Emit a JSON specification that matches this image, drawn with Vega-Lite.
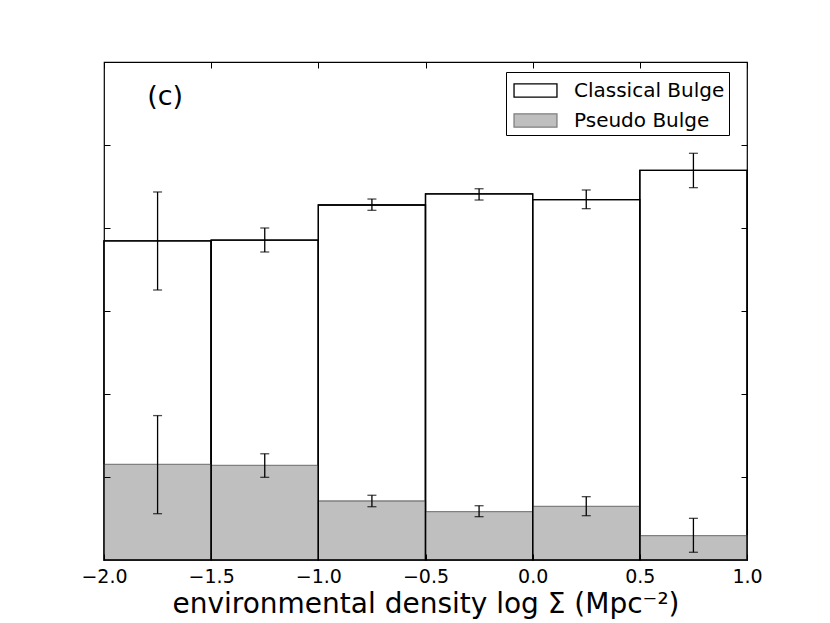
{
  "$schema": "https://vega.github.io/schema/vega-lite/v6.json",
  "width": 643,
  "height": 498,
  "autosize": "none",
  "padding": {"left": 104, "top": 62, "right": 83, "bottom": 63},
  "background": "white",
  "datasets": {
    "bins": [
      {"lo": -2.0, "hi": -1.5, "mid": -1.75, "classical": 0.3845, "pseudo": 0.1152, "c_lo": 0.3253, "c_hi": 0.4434, "p_lo": 0.0558, "p_hi": 0.1740},
      {"lo": -1.5, "hi": -1.0, "mid": -1.25, "classical": 0.3855, "pseudo": 0.1140, "c_lo": 0.3711, "c_hi": 0.4000, "p_lo": 0.0996, "p_hi": 0.1280},
      {"lo": -1.0, "hi": -0.5, "mid": -0.75, "classical": 0.4277, "pseudo": 0.0711, "c_lo": 0.4213, "c_hi": 0.4349, "p_lo": 0.0642, "p_hi": 0.0780},
      {"lo": -0.5, "hi": 0.0, "mid": -0.25, "classical": 0.4410, "pseudo": 0.0582, "c_lo": 0.4337, "c_hi": 0.4473, "p_lo": 0.0522, "p_hi": 0.0654},
      {"lo": 0.0, "hi": 0.5, "mid": 0.25, "classical": 0.4341, "pseudo": 0.0647, "c_lo": 0.4233, "c_hi": 0.4458, "p_lo": 0.0534, "p_hi": 0.0763},
      {"lo": 0.5, "hi": 1.0, "mid": 0.75, "classical": 0.4695, "pseudo": 0.0293, "c_lo": 0.4486, "c_hi": 0.4900, "p_lo": 0.0093, "p_hi": 0.0502}
    ],
    "note": [{"x": -1.715, "y": 0.558, "label": "(c)"}]
  },
  "data": {"name": "bins"},
  "config": {
    "font": "DejaVu Sans",
    "view": {"stroke": "black", "strokeWidth": 1.2},
    "axis": {
      "domain": false,
      "grid": false,
      "tickColor": "black",
      "tickSize": -6,
      "tickWidth": 1,
      "labelColor": "black",
      "labelFont": "DejaVu Sans",
      "labelFontSize": 19,
      "titleColor": "black",
      "titleFont": "DejaVu Sans",
      "titleFontWeight": "normal"
    }
  },
  "layer": [
    {
      "mark": {"type": "rect", "strokeWidth": 1.3},
      "encoding": {
        "x": {
          "field": "lo", "type": "quantitative",
          "scale": {"domain": [-2, 1], "nice": false, "zero": false, "padding": 0},
          "axis": {
            "orient": "bottom",
            "zindex": 2,
            "values": [-2, -1.5, -1, -0.5, 0, 0.5, 1],
            "format": ".1f",
            "labelPadding": 13,
            "labelFlush": false,
            "title": "environmental density log Σ (Mpc⁻²)",
            "titleFontSize": 28,
            "titlePadding": 4
          }
        },
        "x2": {"field": "hi"},
        "y": {
          "field": "classical", "type": "quantitative",
          "scale": {"domain": [0, 0.6], "nice": false, "padding": 0},
          "axis": {"orient": "left", "zindex": 2, "values": [0.1, 0.2, 0.3, 0.4, 0.5], "labels": false, "title": null}
        },
        "y2": {"datum": 0},
        "fill": {
          "datum": "Classical Bulge",
          "scale": {"domain": ["Classical Bulge", "Pseudo Bulge"], "range": ["white", "#bfbfbf"]},
          "legend": {
            "orient": "none",
            "legendX": 402,
            "legendY": 10,
            "title": null,
            "strokeColor": "black",
            "fillColor": "white",
            "padding": 4,
            "symbolOffset": 11,
            "labelFontSize": 20,
            "labelFont": "DejaVu Sans",
            "labelColor": "black",
            "labelOffset": 24,
            "rowPadding": 5,
            "symbolType": "M-1.6,-0.5H1.6V0.5H-1.6Z",
            "symbolSize": 720,
            "symbolStrokeWidth": 1.3
          }
        },
        "stroke": {
          "datum": "Classical Bulge",
          "scale": {"domain": ["Classical Bulge", "Pseudo Bulge"], "range": ["black", "#808080"]},
          "legend": null
        }
      }
    },
    {
      "mark": {"type": "rect", "strokeWidth": 1.3},
      "encoding": {
        "x": {
          "field": "lo", "type": "quantitative",
          "axis": {"orient": "top", "zindex": 2, "values": [-2, -1.5, -1, -0.5, 0, 0.5, 1], "labels": false, "title": null}
        },
        "x2": {"field": "hi"},
        "y": {
          "field": "pseudo", "type": "quantitative",
          "axis": {"orient": "right", "zindex": 2, "values": [0.1, 0.2, 0.3, 0.4, 0.5], "labels": false, "title": null}
        },
        "y2": {"datum": 0},
        "fill": {"datum": "Pseudo Bulge"},
        "stroke": {"datum": "Pseudo Bulge", "legend": null}
      }
    },
    {
      "mark": {"type": "rect", "fill": null, "stroke": "black", "strokeWidth": 1.3},
      "encoding": {
        "x": {"field": "lo", "type": "quantitative", "axis": null},
        "x2": {"field": "hi"},
        "y": {"field": "classical", "type": "quantitative", "axis": null},
        "y2": {"datum": 0}
      }
    },
    {
      "mark": {"type": "errorbar", "color": "black", "ticks": {"size": 9, "thickness": 1.3}, "rule": {"strokeWidth": 1.3}},
      "encoding": {
        "x": {"field": "mid", "type": "quantitative", "axis": null},
        "y": {"field": "c_lo", "type": "quantitative", "axis": null},
        "y2": {"field": "c_hi"}
      }
    },
    {
      "mark": {"type": "errorbar", "color": "black", "ticks": {"size": 9, "thickness": 1.3}, "rule": {"strokeWidth": 1.3}},
      "encoding": {
        "x": {"field": "mid", "type": "quantitative", "axis": null},
        "y": {"field": "p_lo", "type": "quantitative", "axis": null},
        "y2": {"field": "p_hi"}
      }
    },
    {
      "data": {"name": "note"},
      "mark": {"type": "text", "font": "DejaVu Sans", "fontSize": 27, "color": "black", "baseline": "middle", "align": "center"},
      "encoding": {
        "x": {"field": "x", "type": "quantitative", "axis": null},
        "y": {"field": "y", "type": "quantitative", "axis": null},
        "text": {"field": "label"}
      }
    }
  ],
  "resolve": {"axis": {"x": "independent", "y": "independent"}}
}
